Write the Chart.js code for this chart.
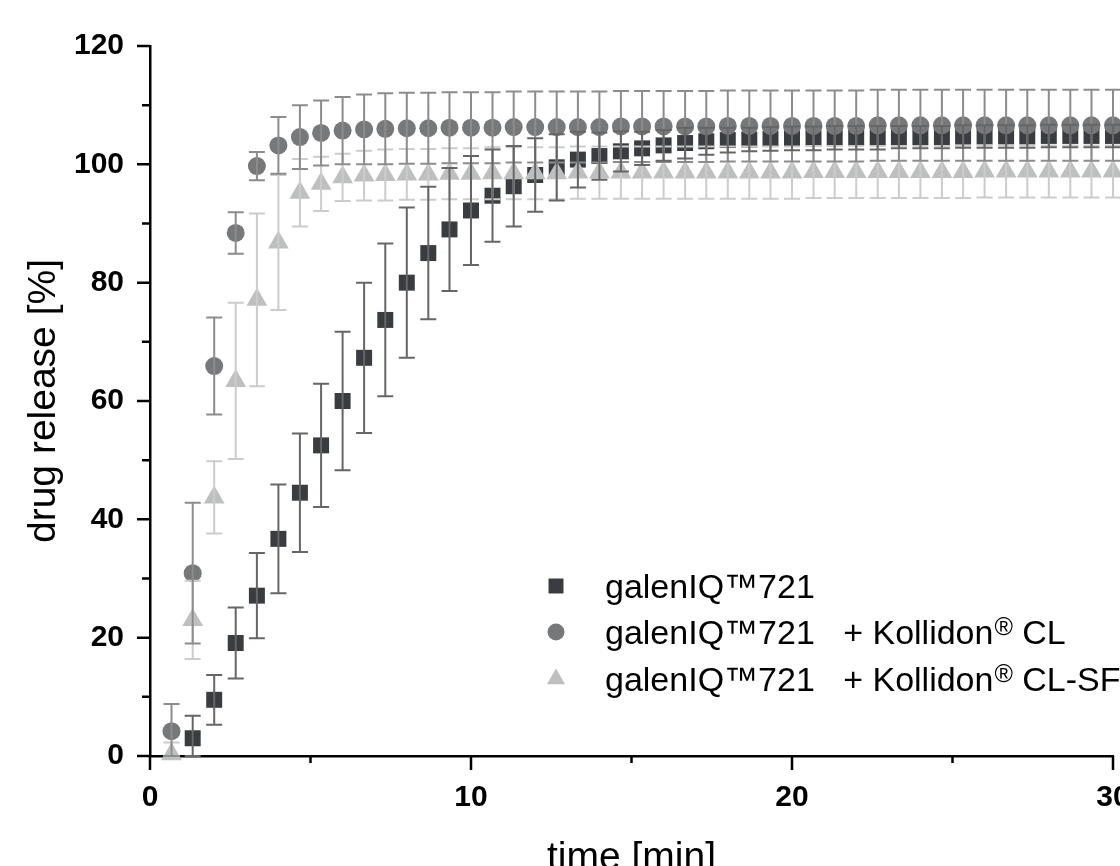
<!DOCTYPE html>
<html>
<head>
<meta charset="utf-8">
<script src="https://cdn.jsdelivr.net/npm/chart.js@4.4.1/dist/chart.umd.min.js"></script>
<style>
  html, body { margin: 0; padding: 0; overflow: hidden; background: #fff; }
  #wrap { width: 1200px; height: 900px; }
</style>
</head>
<body>
<div id="wrap"><canvas id="release" width="1200" height="900"></canvas></div>
<script>
// sampling times (min)
const times = [0.67, 1.33, 2.00, 2.67, 3.33, 4.00, 4.67, 5.33, 6.00, 6.67,
               7.33, 8.00, 8.67, 9.33, 10.00, 10.67, 11.33, 12.00, 12.67, 13.33,
               14.00, 14.67, 15.33, 16.00, 16.67, 17.33, 18.00, 18.67, 19.33, 20.00,
               20.67, 21.33, 22.00, 22.67, 23.33, 24.00, 24.67, 25.33, 26.00, 26.67,
               27.33, 28.00, 28.67, 29.33, 30.00];

const seriesLabels = ['galenIQ™721', 'galenIQ™721   + Kollidon® CL', 'galenIQ™721   + Kollidon® CL-SF'];

// galenIQ 721
const plainMean = [null, 3.0, 9.5, 19.1, 27.1, 36.7, 44.5, 52.5, 60.0, 67.3,
                   73.7, 80.0, 85.0, 89.0, 92.2, 94.7, 96.3, 98.2, 99.5, 100.8,
                   101.4, 102.2, 102.7, 103.2, 103.6, 103.9, 104.1, 104.2, 104.3, 104.4,
                   104.4, 104.5, 104.5, 104.5, 104.6, 104.6, 104.6, 104.7, 104.7, 104.7,
                   104.7, 104.8, 104.8, 104.8, 104.8];
const plainSd = [null, 3.8, 4.2, 6.0, 7.2, 9.2, 10.0, 10.4, 11.7, 12.7,
                 12.9, 12.7, 11.2, 10.4, 9.2, 7.8, 6.8, 6.2, 5.6, 4.7,
                 4.0, 3.4, 2.8, 2.6, 2.6, 2.3, 2.1, 2.0, 2.0, 2.0,
                 2.0, 2.0, 2.0, 2.0, 1.9, 1.9, 1.9, 1.9, 1.9, 1.9,
                 1.9, 1.9, 1.9, 1.9, 1.9];

// + Kollidon CL
const clMean = [4.2, 30.9, 65.9, 88.4, 99.7, 103.2, 104.6, 105.3, 105.7, 105.9,
                106.0, 106.1, 106.1, 106.2, 106.2, 106.2, 106.3, 106.3, 106.3, 106.3,
                106.3, 106.4, 106.4, 106.4, 106.4, 106.4, 106.5, 106.5, 106.5, 106.5,
                106.5, 106.5, 106.5, 106.6, 106.6, 106.6, 106.6, 106.6, 106.6, 106.6,
                106.6, 106.6, 106.6, 106.6, 106.6];
const clSd = [4.6, 11.9, 8.2, 3.5, 2.4, 4.8, 5.4, 5.5, 5.7, 5.9,
              6.0, 6.0, 6.0, 6.0, 6.0, 6.0, 6.0, 6.0, 6.0, 6.0,
              6.0, 6.0, 6.0, 6.0, 6.0, 6.0, 6.0, 6.0, 6.0, 6.0,
              6.0, 6.0, 6.0, 6.0, 6.0, 6.0, 6.0, 6.0, 6.0, 6.0,
              6.0, 6.0, 6.0, 6.0, 6.0];

// + Kollidon CL-SF
const sfMean = [0.3, 23.0, 43.7, 63.4, 77.1, 86.8, 95.2, 96.7, 97.8, 98.1,
                98.2, 98.3, 98.3, 98.4, 98.4, 98.5, 98.5, 98.5, 98.5, 98.6,
                98.6, 98.6, 98.6, 98.6, 98.6, 98.6, 98.6, 98.6, 98.6, 98.6,
                98.7, 98.7, 98.7, 98.7, 98.7, 98.7, 98.7, 98.7, 98.8, 98.8,
                98.8, 98.8, 98.8, 98.8, 98.8];
const sfSd = [2.0, 6.6, 6.1, 13.2, 14.6, 11.4, 5.7, 4.6, 4.0, 4.2,
              4.3, 4.3, 4.3, 4.3, 4.3, 4.4, 4.4, 4.4, 4.4, 4.4,
              4.4, 4.4, 4.4, 4.4, 4.4, 4.4, 4.4, 4.4, 4.4, 4.4,
              4.4, 4.4, 4.4, 4.4, 4.4, 4.4, 4.4, 4.4, 4.4, 4.4,
              4.4, 4.4, 4.4, 4.4, 4.4];

const xTicks = [0, 10, 20, 30];
const yTicks = [0, 20, 40, 60, 80, 100, 120];

function points(mean, sd) {
  const out = [];
  times.forEach((t, i) => {
    if (mean[i] !== null) out.push({ x: t, y: mean[i], sd: sd[i] });
  });
  return out;
}

// error bars, drawn over the symbols (squares last so their bars sit on top)
const errorBars = {
  id: 'errorBars',
  afterDatasetsDraw(chart) {
    const ctx = chart.ctx;
    const y = chart.scales.y;
    for (let di = chart.data.datasets.length - 1; di >= 0; di--) {
      const ds = chart.data.datasets[di];
      const meta = chart.getDatasetMeta(di);
      ctx.save();
      ctx.strokeStyle = ds.barColor;
      ctx.lineWidth = 2;
      ctx.beginPath();
      meta.data.forEach((pt, i) => {
        const raw = ds.data[i];
        const top = y.getPixelForValue(raw.y + raw.sd);
        const bot = y.getPixelForValue(Math.max(0, raw.y - raw.sd));
        ctx.moveTo(pt.x, top); ctx.lineTo(pt.x, bot);
        ctx.moveTo(pt.x - 8, top); ctx.lineTo(pt.x + 8, top);
        ctx.moveTo(pt.x - 8, bot); ctx.lineTo(pt.x + 8, bot);
      });
      ctx.stroke();
      ctx.restore();
    }
  }
};

// major / minor tick marks
const axisTicks = {
  id: 'axisTicks',
  afterDraw(chart) {
    const { ctx, chartArea, scales: { x, y } } = chart;
    ctx.save();
    ctx.strokeStyle = '#000';
    ctx.lineWidth = 2.5;
    ctx.beginPath();
    y.ticks.forEach(t => {
      const p = y.getPixelForValue(t.value);
      const len = yTicks.includes(t.value) ? 13 : 8;
      ctx.moveTo(chartArea.left - len, p); ctx.lineTo(chartArea.left, p);
    });
    x.ticks.forEach(t => {
      const p = x.getPixelForValue(t.value);
      const len = xTicks.includes(t.value) ? 14 : 7;
      ctx.moveTo(p, chartArea.bottom); ctx.lineTo(p, chartArea.bottom + len);
    });
    ctx.stroke();
    ctx.restore();
  }
};

// legend inside the plot, with superscript ®
function drawLabel(ctx, text, x, baseline) {
  const parts = text.split('®');
  ctx.fillStyle = '#000';
  ctx.textAlign = 'left';
  ctx.textBaseline = 'alphabetic';
  parts.forEach((p, i) => {
    ctx.font = '34px "Liberation Sans", Arial, sans-serif';
    ctx.fillText(p, x, baseline);
    x += ctx.measureText(p).width;
    if (i < parts.length - 1) {
      ctx.font = '25px "Liberation Sans", Arial, sans-serif';
      ctx.fillText('®', x + 1, baseline - 9);
      x += ctx.measureText('®').width + 1;
    }
  });
}

function drawMarker(ctx, style, color, x, y) {
  ctx.fillStyle = color;
  ctx.beginPath();
  if (style === 'rect') {
    ctx.rect(x - 7.5, y - 7.5, 15, 15);
  } else if (style === 'circle') {
    ctx.arc(x, y, 8.5, 0, Math.PI * 2);
  } else {
    const r = 10.5;
    ctx.moveTo(x, y - r);
    ctx.lineTo(x + r * 0.866, y + r / 2);
    ctx.lineTo(x - r * 0.866, y + r / 2);
    ctx.closePath();
  }
  ctx.fill();
}

const insideLegend = {
  id: 'insideLegend',
  afterDraw(chart) {
    const ctx = chart.ctx;
    const rows = [586, 632, 679];
    ctx.save();
    chart.data.datasets.forEach((ds, i) => {
      drawMarker(ctx, ds.pointStyle, ds.backgroundColor, 556, rows[i]);
      drawLabel(ctx, ds.label, 605, rows[i] + 12);
    });
    ctx.restore();
  }
};

const tickFont = { family: '"Liberation Sans", Arial, sans-serif', weight: 'bold', size: 30, lineHeight: 1 };
const titleFont = { family: '"Liberation Sans", Arial, sans-serif', size: 39, lineHeight: 1 };

new Chart(document.getElementById('release').getContext('2d'), {
  type: 'scatter',
  data: {
    datasets: [
      {
        label: seriesLabels[0],
        data: points(plainMean, plainSd),
        pointStyle: 'rect', pointRadius: 11.3, pointHoverRadius: 11.3,
        backgroundColor: '#393d41', borderWidth: 0,
        barColor: '#666666', order: 3, clip: false
      },
      {
        label: seriesLabels[1],
        data: points(clMean, clSd),
        pointStyle: 'circle', pointRadius: 9, pointHoverRadius: 9,
        backgroundColor: '#77787a', borderWidth: 0,
        barColor: '#8c8c8c', order: 1, clip: false
      },
      {
        label: seriesLabels[2],
        data: points(sfMean, sfSd),
        pointStyle: 'triangle', pointRadius: 12, pointHoverRadius: 12,
        backgroundColor: '#bebfbf', borderWidth: 0,
        barColor: '#cccccc', order: 2, clip: false
      }
    ]
  },
  options: {
    responsive: false,
    animation: false,
    events: [],
    layout: { padding: { top: 46, right: 87, left: 0, bottom: 0 } },
    plugins: {
      legend: { display: false },
      tooltip: { enabled: false }
    },
    scales: {
      x: {
        type: 'linear', min: 0, max: 30,
        grid: { display: false, drawTicks: false },
        border: { display: true, color: '#000', width: 2.5 },
        ticks: {
          stepSize: 5, padding: 27, color: '#000', maxRotation: 0, autoSkip: false,
          font: tickFont,
          callback: v => xTicks.includes(v) ? String(v) : ''
        },
        title: { display: true, text: 'time [min]', color: '#000', font: titleFont,
                 padding: { top: 0, bottom: 22 } },
        afterFit: s => { s.height = 144; }
      },
      y: {
        type: 'linear', min: 0, max: 120,
        grid: { display: false, drawTicks: false },
        border: { display: true, color: '#000', width: 2.5 },
        ticks: {
          stepSize: 10, padding: 26, color: '#000', autoSkip: false,
          font: tickFont,
          callback: v => yTicks.includes(v) ? String(v) : ''
        },
        title: { display: true, text: 'drug release [%]', color: '#000', font: titleFont,
                 padding: { top: 25, bottom: 0 } },
        afterFit: s => { s.width = 150; }
      }
    }
  },
  plugins: [errorBars, axisTicks, insideLegend]
});
</script>
</body>
</html>
